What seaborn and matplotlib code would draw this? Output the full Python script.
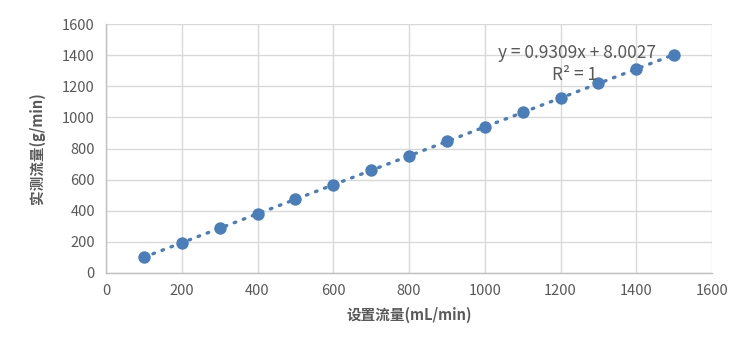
import matplotlib
matplotlib.use("Agg")
import matplotlib.pyplot as plt
import seaborn as sns
import numpy as np
import pandas as pd

set_flow = [100, 200, 300, 400, 500, 600, 700, 800, 900, 1000, 1100, 1200, 1300, 1400, 1500]
measured_flow = [101, 194, 287, 380, 473, 567, 660, 753, 846, 939, 1032, 1125, 1218, 1311, 1404]
x_ticks = [0, 200, 400, 600, 800, 1000, 1200, 1400, 1600]
y_ticks = [0, 200, 400, 600, 800, 1000, 1200, 1400, 1600]
x_label = "设置流量(mL/min)"
y_label = "实测流量(g/min)"

sns.set_theme(style="white")
plt.rcParams['font.family'] = ['Noto Sans CJK SC', 'DejaVu Sans']

df = pd.DataFrame({"x": set_flow, "y": measured_flow})
color = "#4a7ebb"
text_gray = "#595959"

fig = plt.figure(figsize=(7.52, 3.54), dpi=100)
ax = fig.add_axes([0.141, 0.229, 0.806, 0.703])

sns.regplot(data=df, x="x", y="y", ax=ax, ci=None, color=color,
            scatter_kws=dict(s=80, zorder=3, linewidths=0, alpha=1),
            line_kws=dict(linestyle=(0, (0.5, 2.4)), linewidth=2.4,
                          dash_capstyle="round", zorder=2))

ax.set_xlim(0, 1600)
ax.set_ylim(0, 1600)
ax.set_xticks(x_ticks)
ax.set_yticks(y_ticks)
ax.grid(True, color="#d9d9d9", linewidth=1)
ax.set_axisbelow(True)
for s in ["top", "right"]:
    ax.spines[s].set_visible(False)
for s in ["left", "bottom"]:
    ax.spines[s].set_color("#bfbfbf")
    ax.spines[s].set_linewidth(1)
ax.tick_params(axis="both", length=0, labelsize=10.5, colors=text_gray, pad=8)

ax.set_xlabel(x_label, fontsize=10.5, fontweight="bold", color=text_gray, labelpad=6)
ax.set_ylabel(y_label, fontsize=10.5, fontweight="bold", color=text_gray, labelpad=12)

ax.text(1243, 1413, "y = 0.9309x + 8.0027", fontsize=12.5, color=text_gray, ha="center", va="center")
ax.text(1236, 1272, "R² = 1", fontsize=12.5, color=text_gray, ha="center", va="center")

fig.savefig("out.png", dpi=100)
